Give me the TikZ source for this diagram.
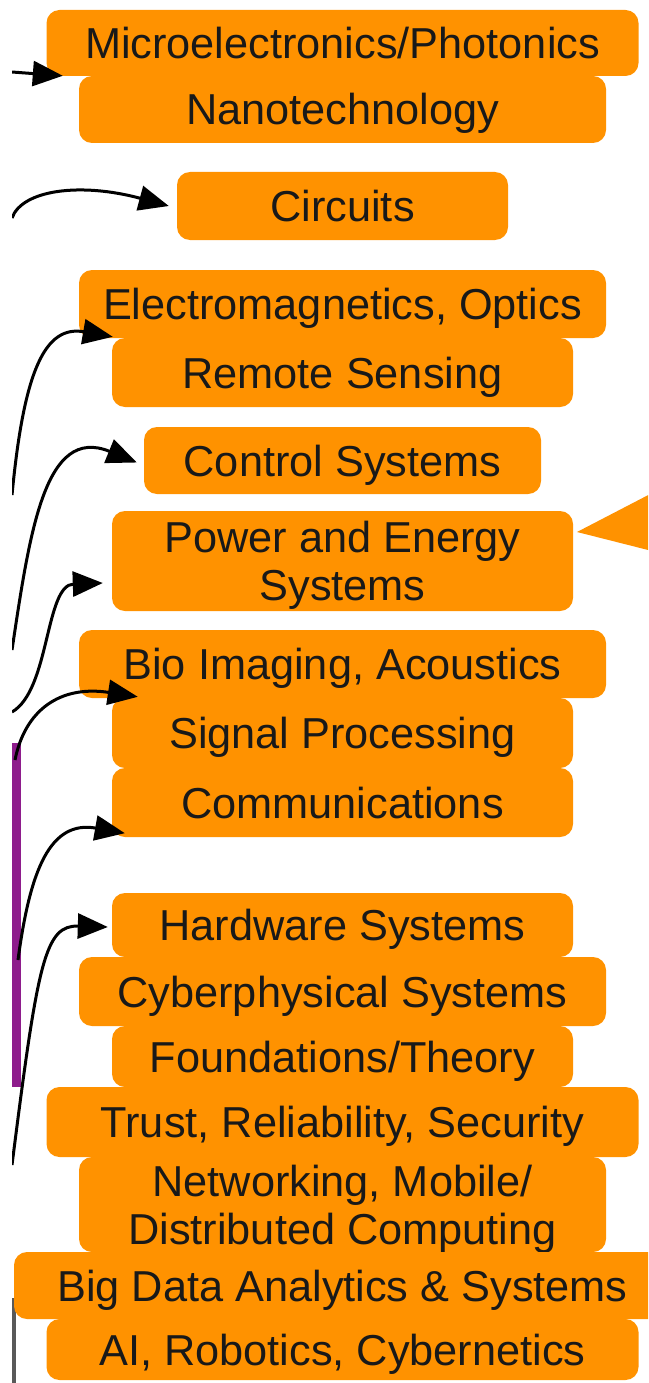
\documentclass[tikz,border=0pt]{standalone}
\usepackage{fontspec}
\setmainfont{Liberation Sans}
\usetikzlibrary{arrows.meta}
\definecolor{boxorange}{RGB}{255,146,0}
\definecolor{barpurple}{RGB}{142,28,140}
\begin{document}
\begin{tikzpicture}[x=1pt,y=-1pt,
  area/.style={fill=boxorange, rounded corners=13pt, inner sep=0pt, text=black!90,
    font=\fontsize{43.3}{48}\selectfont, align=center},
  oneline/.style={area, text height=31pt, text depth=0pt},
  twoline/.style={area, text height=79pt, text depth=0pt},
  link/.style={line width=3pt, -{Triangle[length=30pt,width=25pt]}},
]
\useasboundingbox (0,0) rectangle (648,1383);
\clip (12,0) rectangle (648,1383);

% side markers
\fill[barpurple] (12,743) rectangle (21,1087);
\draw[black!65, line width=4pt] (14,1298) -- (14,1390);

% topic boxes
\node[oneline, minimum width=592pt, minimum height=66pt] (micro)   at (342.5,43)    {Microelectronics/Photonics};
\node[oneline, minimum width=527pt, minimum height=67pt] (nano)    at (342.5,109.5) {Nanotechnology};
\node[oneline, minimum width=331pt, minimum height=68pt] (circ)    at (342.5,206)   {Circuits};
\node[oneline, minimum width=527pt, minimum height=68pt] (emag)    at (342.5,304)   {Electromagnetics, Optics};
\node[oneline, minimum width=461pt, minimum height=69pt] (remote)  at (342.5,372.5) {Remote Sensing};
\node[oneline, minimum width=397pt, minimum height=67pt] (control) at (342.5,460.5) {Control Systems};
\node[twoline, minimum width=461pt, minimum height=100pt] (power)  at (342.5,561)   {Power and Energy\\Systems};
\node[oneline, minimum width=527pt, minimum height=68pt] (bio)     at (342.5,664)   {Bio Imaging, Acoustics};
\node[oneline, minimum width=461pt, minimum height=70pt] (signal)  at (342.5,733)   {Signal Processing};
\node[oneline, minimum width=461pt, minimum height=69pt] (comm)    at (342.5,802.5) {Communications};
\node[oneline, minimum width=461pt, minimum height=64pt] (hw)      at (342.5,925)   {Hardware Systems};
\node[oneline, minimum width=527pt, minimum height=69pt] (cps)     at (342.5,991.5) {Cyberphysical Systems};
\node[oneline, minimum width=461pt, minimum height=61pt] (found)   at (342.5,1056.5){Foundations/Theory};
\node[oneline, minimum width=592pt, minimum height=70pt] (trust)   at (342.5,1122)  {Trust, Reliability, Security};
\node[twoline, minimum width=527pt, minimum height=95pt] (net)     at (342.5,1204.5){Networking, Mobile/\\Distributed Computing};
\node[oneline, minimum width=657pt, minimum height=67pt] (bigdata) at (342.5,1285.5){Big Data Analytics \& Systems};
\node[oneline, minimum width=592pt, minimum height=61pt] (ai)      at (342.5,1349.5){AI, Robotics, Cybernetics};

% incoming arrowhead on the right
\fill[boxorange] (577,532) -- (656,491) -- (656,552) -- cycle;

% connector sources beyond the left border
\coordinate (sA) at (12,72);
\coordinate (sB) at (12,218);
\coordinate (sC) at (12,495);
\coordinate (sD) at (12,650);
\coordinate (sE) at (12,712);
\coordinate (sF) at (15,760);
\coordinate (sG) at (18,960);
\coordinate (sH) at (12,1165);

% connectors
\draw[link] (sA) -- ([xshift=-16pt]nano.north west);
\draw[link] (sB) .. controls (22,190) and (80,182) .. ([xshift=-8pt]circ.west);
\draw[link] (sC) .. controls (24,370) and (45,325) .. ([xshift=1pt,yshift=1pt]remote.north west);
\draw[link] (sD) .. controls (30,530) and (45,425) .. ([xshift=-7pt,yshift=-2pt]control.west);
\draw[link] (sE) .. controls (50,690) and (45,585) .. ([xshift=-9pt,yshift=-22pt]power.west);
\draw[link] (sF) .. controls (25,710) and (60,685) .. ([xshift=26pt,yshift=1pt]signal.north west);
\draw[link] (sG) .. controls (30,870) and (50,820) .. ([xshift=13pt,yshift=4pt]comm.south west);
\draw[link] (sH) .. controls (38,960) and (45,925) .. ([xshift=-4pt,yshift=-2pt]hw.west);
\end{tikzpicture}
\end{document}
